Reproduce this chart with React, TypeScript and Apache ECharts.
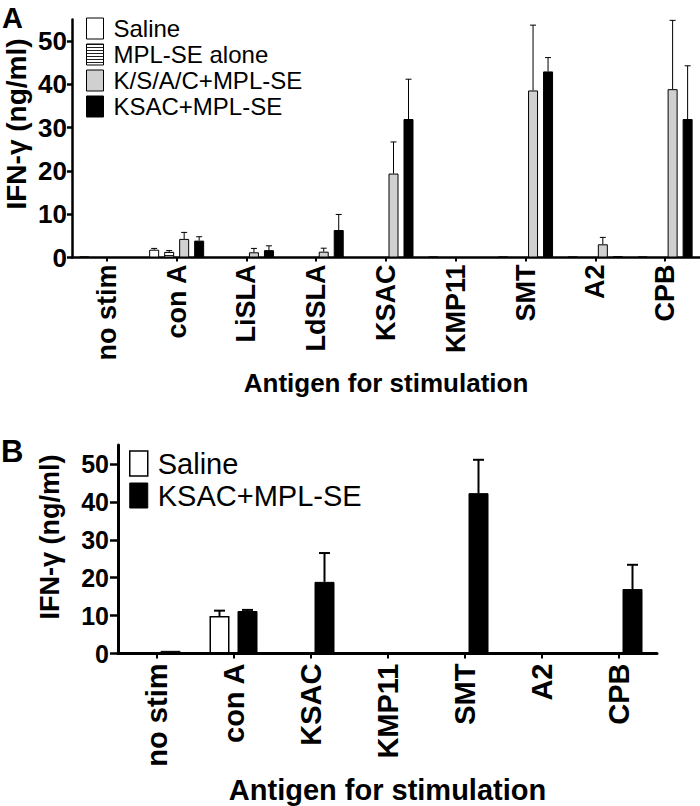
import React, { useEffect, useRef } from "react";
import * as echarts from "echarts";

// ---------- Panel A data ----------
const categoriesA = ["no stim", "con A", "LiSLA", "LdSLA", "KSAC", "KMP11", "SMT", "A2", "CPB"];
const salineA = [0.2, 1.8, 0, 0, 0, 0.2, 0.2, 0.2, 0.2];
const salineErrA = [0, 0.3, 0, 0, 0, 0, 0, 0, 0];
const mplAloneA = [0, 1.3, 0, 0, 0, 0, 0, 0, 0];
const mplAloneErrA = [0, 0.3, 0, 0, 0, 0, 0, 0, 0];
const ksacSepA = [0, 4.3, 1.2, 1.35, 19.4, 0, 38.6, 3.05, 38.9];
const ksacSepErrA = [0, 1.5, 0.9, 0.8, 7.3, 0, 15.1, 1.6, 15.9];
const ksacA = [0, 3.9, 1.7, 6.35, 32.0, 0, 43.0, 0.3, 32.0];
const ksacErrA = [0, 0.9, 1.0, 3.6, 9.2, 0, 3.2, 0, 12.3];

// ---------- Panel B data ----------
const categoriesB = ["no stim", "con A", "KSAC", "KMP11", "SMT", "A2", "CPB"];
const salineB = [0, 9.9, 0, 0, 0.2, 0, 0];
const salineErrB = [0, 1.4, 0, 0, 0, 0, 0];
const ksacB = [0.7, 11.2, 18.9, 0, 42.3, 0, 17.0];
const ksacErrB = [0, 0.3, 7.6, 0, 8.8, 0, 6.4];

const yTicks = [0, 10, 20, 30, 40, 50];

const FONT = "'Liberation Sans', Arial, Helvetica, sans-serif";

function makeHatch() {
  const c = document.createElement("canvas");
  c.width = 4;
  c.height = 3;
  const ctx = c.getContext("2d")!;
  ctx.fillStyle = "#ffffff";
  ctx.fillRect(0, 0, 4, 3);
  ctx.fillStyle = "#222222";
  ctx.fillRect(0, 0, 4, 1);
  return c;
}

function errSeries(name: string, vals: number[], errs: number[], xi: number, offset: number, capHalf: number, lw: number) {
  return {
    type: "custom",
    name,
    xAxisIndex: xi,
    yAxisIndex: xi,
    z: 5,
    silent: true,
    data: vals.map((v, i) => [i, v, errs[i]]),
    renderItem: (params: any, api: any) => {
      const i = api.value(0);
      const v = api.value(1);
      const e = api.value(2);
      if (!e) return null;
      const p0 = api.coord([i, v]);
      const p1 = api.coord([i, v + e]);
      const x = p0[0] + offset;
      const st = { stroke: "#000", lineWidth: lw, fill: null };
      return {
        type: "group",
        children: [
          { type: "line", shape: { x1: x, y1: p0[1], x2: x, y2: p1[1] }, style: st },
          { type: "line", shape: { x1: x - capHalf, y1: p1[1], x2: x + capHalf, y2: p1[1] }, style: st },
        ],
      };
    },
  };
}

export default function App() {
  const ref = useRef<HTMLDivElement>(null);
  useEffect(() => {
    if (!ref.current) return;
    const chart = echarts.init(ref.current, undefined, { renderer: "svg" });
    const hatch = { image: makeHatch(), repeat: "repeat" } as any;

    const whiteStyle = { color: "#ffffff", borderColor: "#000", borderWidth: 1 };
    const hatchStyle = { color: hatch, borderColor: "#000", borderWidth: 1 };
    const grayStyle = { color: "#d0d0d0", borderColor: "#000", borderWidth: 1 };
    const blackStyle = { color: "#000000", borderColor: "#000", borderWidth: 1 };

    const bwA = 10, gapA = 5, bwB = 20, gapB = 8;
    const offA = (k: number) => (k - 1.5) * (bwA + gapA);
    const offB = (k: number) => (k - 0.5) * (bwB + gapB);

    const axisCommon = (w: number) => ({
      axisLine: { show: true, lineStyle: { color: "#000", width: w } },
      splitLine: { show: false },
    });

    const option: any = {
      animation: false,
      backgroundColor: "#ffffff",
      textStyle: { fontFamily: FONT },
      grid: [
        { left: 72, top: 19.5, width: 628, height: 238 },
        { left: 118, top: 445, width: 539, height: 208.5 },
      ],
      xAxis: [
        {
          type: "category",
          gridIndex: 0,
          data: categoriesA,
          ...axisCommon(2.5),
          axisTick: { show: true, alignWithLabel: true, length: 4, lineStyle: { color: "#000", width: 2 } },
          axisLabel: { rotate: 90, fontSize: 27, fontWeight: "bold", color: "#000", margin: 7, fontFamily: FONT },
          name: "Antigen for stimulation",
          nameLocation: "middle",
          nameGap: 112,
          nameTextStyle: { fontSize: 26, fontWeight: "bold", color: "#000", fontFamily: FONT },
        },
        {
          type: "category",
          gridIndex: 1,
          data: categoriesB,
          ...axisCommon(3),
          axisTick: { show: true, alignWithLabel: true, length: 5, lineStyle: { color: "#000", width: 2 } },
          axisLabel: { rotate: 90, fontSize: 29, fontWeight: "bold", color: "#000", margin: 10, fontFamily: FONT },
          name: "Antigen for stimulation",
          nameLocation: "middle",
          nameGap: 122,
          nameTextStyle: { fontSize: 29, fontWeight: "bold", color: "#000", fontFamily: FONT },
        },
      ],
      yAxis: [
        {
          type: "value",
          gridIndex: 0,
          min: 0,
          max: 55,
          interval: 10,
          ...axisCommon(2.5),
          axisTick: { show: true, length: 5, customValues: yTicks, lineStyle: { color: "#000", width: 2.5 } },
          axisLabel: { fontSize: 26, fontWeight: "bold", color: "#000", margin: 5, customValues: yTicks, fontFamily: FONT },
        },
        {
          type: "value",
          gridIndex: 1,
          min: 0,
          max: 55,
          interval: 10,
          ...axisCommon(3),
          axisTick: { show: true, length: 8, customValues: yTicks, lineStyle: { color: "#000", width: 2.5 } },
          axisLabel: { fontSize: 25, fontWeight: "bold", color: "#000", margin: 9, customValues: yTicks, fontFamily: FONT },
        },
      ],
      legend: [
        {
          orient: "vertical",
          left: 86,
          top: 16.5,
          padding: 0,
          itemWidth: 17,
          itemHeight: 21,
          itemGap: 2,
          icon: "rect",
          selectedMode: false,
          textStyle: { fontSize: 24, color: "#000", padding: [0, 0, 0, 5], fontFamily: FONT },
          data: [
            { name: "Saline", itemStyle: whiteStyle },
            { name: "MPL-SE alone", itemStyle: hatchStyle },
            { name: "K/S/A/C+MPL-SE", itemStyle: grayStyle },
            { name: "KSAC+MPL-SE", itemStyle: blackStyle },
          ],
        },
        {
          orient: "vertical",
          left: 129,
          top: 449,
          padding: 0,
          itemWidth: 18,
          itemHeight: 25,
          itemGap: 3,
          icon: "rect",
          selectedMode: false,
          textStyle: { fontSize: 29, color: "#000", padding: [0, 0, 0, 5], fontFamily: FONT },
          data: [
            { name: "Saline", itemStyle: { color: "#fff", borderColor: "#000", borderWidth: 1.5 } },
            { name: "KSAC+MPL-SE", itemStyle: blackStyle },
          ],
        },
      ],
      series: [
        { type: "bar", name: "Saline", xAxisIndex: 0, yAxisIndex: 0, data: salineA, barWidth: bwA, barGap: "50%", itemStyle: whiteStyle },
        { type: "bar", name: "MPL-SE alone", xAxisIndex: 0, yAxisIndex: 0, data: mplAloneA, barWidth: bwA, barGap: "50%", itemStyle: hatchStyle },
        { type: "bar", name: "K/S/A/C+MPL-SE", xAxisIndex: 0, yAxisIndex: 0, data: ksacSepA, barWidth: bwA, barGap: "50%", itemStyle: grayStyle },
        { type: "bar", name: "KSAC+MPL-SE", xAxisIndex: 0, yAxisIndex: 0, data: ksacA, barWidth: bwA, barGap: "50%", itemStyle: blackStyle },
        errSeries("errA0", salineA, salineErrA, 0, offA(0), 3, 1),
        errSeries("errA1", mplAloneA, mplAloneErrA, 0, offA(1), 3, 1),
        errSeries("errA2", ksacSepA, ksacSepErrA, 0, offA(2), 3, 1),
        errSeries("errA3", ksacA, ksacErrA, 0, offA(3), 3, 1),
        { type: "bar", name: "Saline", xAxisIndex: 1, yAxisIndex: 1, data: salineB, barWidth: bwB, barGap: "40%", itemStyle: { color: "#fff", borderColor: "#000", borderWidth: 1.5 } },
        { type: "bar", name: "KSAC+MPL-SE", xAxisIndex: 1, yAxisIndex: 1, data: ksacB, barWidth: bwB, barGap: "40%", itemStyle: blackStyle },
        errSeries("errB0", salineB, salineErrB, 1, offB(0), 5.5, 2),
        errSeries("errB1", ksacB, ksacErrB, 1, offB(1), 5.5, 2),
      ],
      graphic: [
        { type: "text", left: 2, top: 3, style: { text: "A", font: `bold 29px ${FONT}`, fill: "#000" } },
        { type: "text", left: 1, top: 436, style: { text: "B", font: `bold 31px ${FONT}`, fill: "#000" } },
        {
          type: "text",
          x: 16,
          y: 124,
          rotation: Math.PI / 2,
          style: { text: "IFN-γ (ng/ml)", font: `bold 28px ${FONT}`, fill: "#000", align: "center", verticalAlign: "middle" },
        },
        {
          type: "text",
          x: 50,
          y: 537,
          rotation: Math.PI / 2,
          style: { text: "IFN-γ (ng/ml)", font: `bold 27px ${FONT}`, fill: "#000", align: "center", verticalAlign: "middle" },
        },
      ],
    };
    chart.setOption(option);
    return () => chart.dispose();
  }, []);
  return <div ref={ref} style={{ position: "absolute", left: 0, top: 0, width: 700, height: 806 }} />;
}
